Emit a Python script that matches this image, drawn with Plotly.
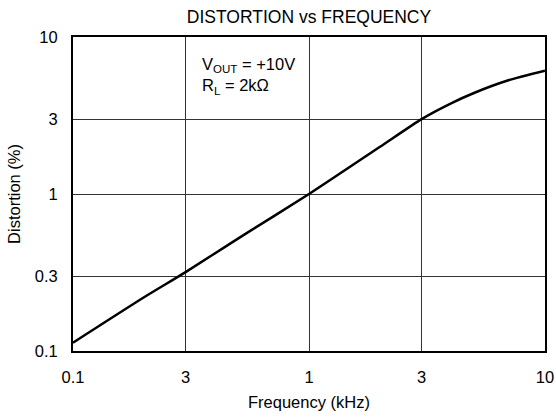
import plotly.graph_objects as go

freq_khz = [0.1, 0.2, 0.3, 0.5, 1, 2, 3, 4, 5, 7, 10]
distortion_pct = [0.113, 0.22, 0.318, 0.52, 1.0, 2.0, 3.0, 3.78, 4.4, 5.3, 6.1]

x_tickvals = [0.1, 0.3, 1, 3, 10]
x_ticktext = ["0.1", "3", "1", "3", "10"]
y_tickvals = [0.1, 0.3, 1, 3, 10]
y_ticktext = ["0.1", "0.3", "1", "3", "10"]

font_family = "Liberation Sans, Arial, sans-serif"

W, H = 556, 420

fig = go.Figure()
fig.add_trace(go.Scatter(
    x=freq_khz, y=distortion_pct, mode="lines",
    line=dict(color="black", width=2.5, shape="spline", smoothing=0.6),
    showlegend=False, hoverinfo="skip",
))

axis_common = dict(
    type="log", showline=True, linecolor="black", linewidth=2, mirror=True,
    showgrid=True, gridcolor="#333", gridwidth=1, ticks="", zeroline=False,
    tickfont=dict(size=16.5, color="black", family=font_family),
)

fig.update_xaxes(
    range=[-1, 1], tickvals=x_tickvals, ticktext=x_ticktext,
    title=dict(text="Frequency (kHz)", font=dict(size=16.5, color="black", family=font_family), standoff=12),
    ticklabelstandoff=10, automargin="bottom",
    **axis_common,
)
fig.update_yaxes(
    range=[-1, 1], tickvals=y_tickvals, ticktext=y_ticktext,
    title=dict(text="Distortion (%)", font=dict(size=16.5, color="black", family=font_family), standoff=10),
    ticklabelstandoff=10, automargin="left",
    **axis_common,
)

fig.add_annotation(
    x=0.27, y=0.95, xref="paper", yref="paper", xanchor="left", yanchor="top",
    text="V<sub>OUT</sub> = +10V<br>R<sub>L</sub> = 2kΩ", showarrow=False, align="left",
    font=dict(size=16.5, color="black", family=font_family),
)

fig.update_layout(
    width=W, height=H,
    margin=dict(l=73, r=11, t=37, b=67),
    paper_bgcolor="white", plot_bgcolor="white",
    title=dict(text="DISTORTION vs FREQUENCY", x=0.5, xref="paper", xanchor="center",
               y=1 - 17 / H, yanchor="middle",
               font=dict(size=17.5, color="black", family=font_family)),
    font=dict(family=font_family, color="black"),
)

fig.write_html(
    "out.html",
    config={"displayModeBar": False},
    post_script="document.body.style.margin='0';document.body.style.overflow='hidden';",
)
